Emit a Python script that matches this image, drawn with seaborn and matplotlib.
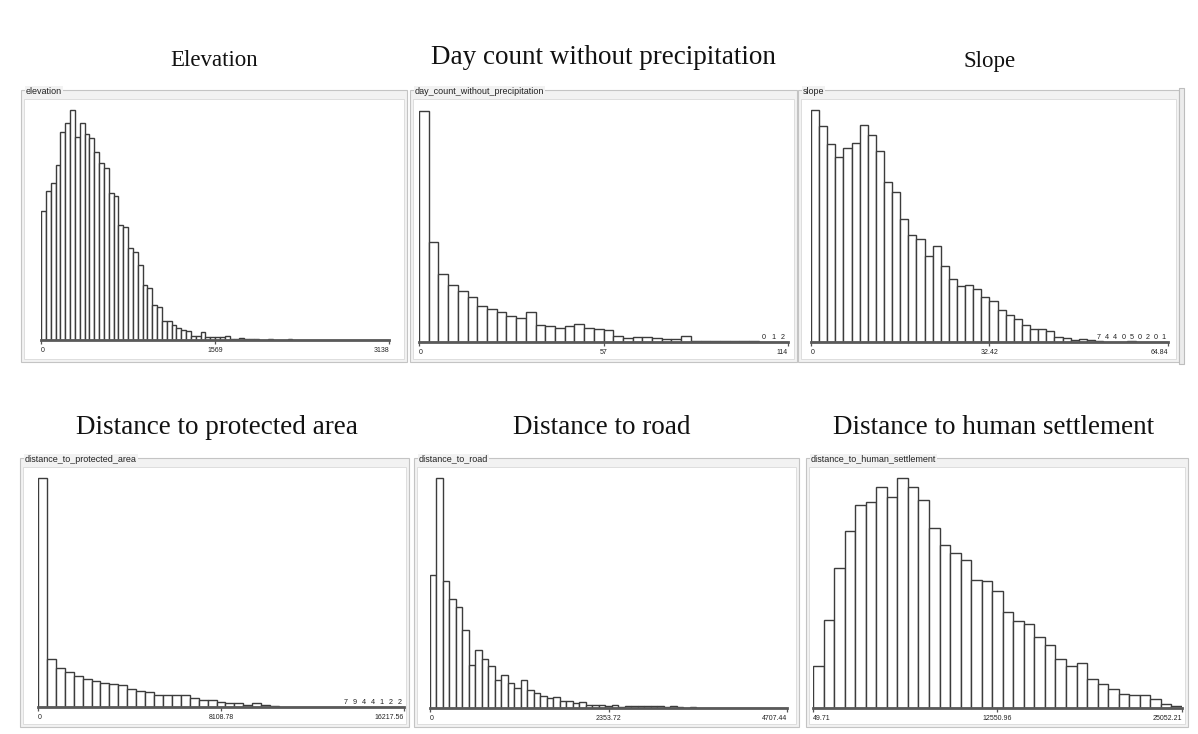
import numpy as np
import pandas as pd
import matplotlib
matplotlib.use("Agg")
import matplotlib.pyplot as plt
from matplotlib.patches import Rectangle
import seaborn as sns

sns.set_style("white")
plt.rcParams["font.family"] = ["Liberation Sans", "DejaVu Sans"]

# bar heights, as a fraction of the tallest bar
elev_heights = [0.56, 0.65, 0.685, 0.76, 0.907, 0.946, 1.0, 0.884, 0.943, 0.899,
                0.878, 0.82, 0.77, 0.75, 0.642, 0.628, 0.50, 0.49, 0.40, 0.385,
                0.326, 0.24, 0.226, 0.154, 0.145, 0.081, 0.081, 0.065, 0.052, 0.043,
                0.039, 0.017, 0.017, 0.033, 0.014, 0.012, 0.012, 0.012, 0.017, 0.006,
                0.006, 0.01, 0.005, 0.004, 0.004, 0.001, 0.0, 0.005, 0.0, 0.0,
                0.0, 0.006] + [0.0] * 20
day_heights = [1.0, 0.432, 0.295, 0.249, 0.223, 0.194, 0.155, 0.144, 0.132, 0.112,
               0.105, 0.132, 0.075, 0.07, 0.06, 0.069, 0.078, 0.062, 0.058, 0.05,
               0.024, 0.019, 0.023, 0.023, 0.017, 0.012, 0.013, 0.024, 0.004, 0.005,
               0.003, 0.004, 0.004, 0.004, 0.003, 0.0, 0.0007, 0.0014]
slope_heights = [1.0, 0.933, 0.854, 0.80, 0.839, 0.858, 0.935, 0.892, 0.825, 0.689,
                 0.646, 0.531, 0.463, 0.445, 0.37, 0.413, 0.327, 0.273, 0.24, 0.244,
                 0.23, 0.194, 0.176, 0.139, 0.118, 0.10, 0.072, 0.056, 0.056, 0.047,
                 0.022, 0.017, 0.009, 0.011, 0.007, 0.0035, 0.002, 0.002, 0.0, 0.0025,
                 0.0, 0.001, 0.0, 0.0005]
prot_heights = [1.0, 0.208, 0.169, 0.155, 0.137, 0.121, 0.114, 0.107, 0.10, 0.097,
                0.079, 0.072, 0.065, 0.053, 0.053, 0.051, 0.053, 0.039, 0.029, 0.029,
                0.02, 0.017, 0.017, 0.01, 0.016, 0.007, 0.003, 0.002, 0.002, 0.002,
                0.002, 0.002, 0.002, 0.002, 0.0015, 0.002, 0.001, 0.001, 0.0003, 0.0005,
                0.0005]
road_heights = [0.581, 1.0, 0.551, 0.473, 0.438, 0.339, 0.187, 0.254, 0.214, 0.182,
                0.121, 0.143, 0.108, 0.089, 0.121, 0.079, 0.067, 0.053, 0.043, 0.05,
                0.029, 0.03, 0.022, 0.027, 0.014, 0.014, 0.014, 0.01, 0.013, 0.006,
                0.009, 0.009, 0.007, 0.007, 0.007, 0.007, 0.006, 0.009, 0.003, 0.001,
                0.004] + [0.0] * 14
human_heights = [0.184, 0.384, 0.609, 0.77, 0.885, 0.895, 0.964, 0.918, 1.0, 0.961,
                 0.906, 0.784, 0.708, 0.673, 0.645, 0.558, 0.554, 0.511, 0.417, 0.378,
                 0.367, 0.308, 0.273, 0.213, 0.183, 0.194, 0.127, 0.105, 0.083, 0.062,
                 0.055, 0.055, 0.04, 0.017, 0.01]

titles = ["Elevation", "Day count without precipitation", "Slope",
          "Distance to protected area", "Distance to road", "Distance to human settlement"]
names = ["elevation", "day_count_without_precipitation", "slope",
         "distance_to_protected_area", "distance_to_road", "distance_to_human_settlement"]
ranges = [(0, 3138), (0, 114), (0, 64.84), (0, 16217.56), (0, 4707.44), (49.71, 25052.21)]
tick_labels = [["0", "1569", "3138"], ["0", "57", "114"], ["0", "32.42", "64.84"],
               ["0", "8108.78", "16217.56"], ["0", "2353.72", "4707.44"],
               ["49.71", "12550.96", "25052.21"]]
# small count labels printed over the last bins
tail_counts = [[], ["0", "1", "2"], ["7", "4", "4", "0", "5", "0", "2", "0", "1"],
               ["7", "9", "4", "4", "1", "2", "2"], [], []]
all_heights = [elev_heights, day_heights, slope_heights, prot_heights, road_heights, human_heights]

W, H = 1198, 734
fig = plt.figure(figsize=(W / 100, H / 100), dpi=100)
fig.patch.set_facecolor("white")

# layout in pixels: frame box, plot area (x0, x1, baseline, top of tallest bar)
frames = [(21, 407, 90, 362), (410, 797, 90, 362), (798, 1179, 90, 362),
          (20, 409, 458, 727), (414, 799, 458, 727), (806, 1188, 458, 727)]
plots = [(41, 389, 340, 109), (419, 788, 342, 110), (811, 1168, 342, 109),
         (38, 404, 707, 477), (430, 787, 708, 477), (813, 1182, 708, 477)]
title_pos = [(214, 60), (603, 58), (990, 62), (217, 428), (602, 428), (994, 428)]
title_size = [16.5, 19.5, 16.5, 19.5, 19.5, 19.5]


def rect_px(x0, x1, y0, y1, **kw):
    r = Rectangle((x0 / W, 1 - y1 / H), (x1 - x0) / W, (y1 - y0) / H,
                  transform=fig.transFigure, **kw)
    fig.add_artist(r)


for i in range(6):
    fx0, fx1, fy0, fy1 = frames[i]
    rect_px(fx0, fx1, fy0, fy1, facecolor="#f2f2f2", edgecolor="#c4c4c4", lw=0.8, zorder=-2)
    rect_px(fx0 + 3, fx1 - 3, fy0 + 9, fy1 - 3, facecolor="white", edgecolor="#dadada", lw=0.6, zorder=-1)
    fig.text((fx0 + 5) / W, 1 - (fy0 + 1) / H, names[i], fontsize=6.5, color="#222222",
             ha="left", va="center",
             bbox=dict(facecolor="#f2f2f2", edgecolor="none", pad=0.6))

    tx, ty = title_pos[i]
    fig.text(tx / W, 1 - ty / H, titles[i], fontsize=title_size[i], ha="center", va="center",
             family=["Liberation Serif", "DejaVu Serif"], color="#111111")

    px0, px1, pb, pt = plots[i]
    ax = fig.add_axes([px0 / W, 1 - pb / H, (px1 - px0) / W, (pb - pt) / H])
    ax.patch.set_alpha(0)

    lo, hi = ranges[i]
    heights = all_heights[i]
    n = len(heights)
    edges = np.linspace(lo, hi, n + 1)
    df = pd.DataFrame({"center": (edges[:-1] + edges[1:]) / 2, "h": heights})
    sns.histplot(data=df, x="center", weights="h", bins=n, binrange=(lo, hi), ax=ax,
                 color="white", edgecolor="#3c3c3c", linewidth=1.0, alpha=1)

    ax.set_xlim(lo, hi)
    ax.set_ylim(0, 1.006)
    ax.set(xlabel="", ylabel="")
    ax.set_yticks([])
    ax.set_xticks([lo, (lo + hi) / 2, hi])
    ax.set_xticklabels(tick_labels[i], fontsize=5, color="#222222")
    tl = ax.get_xticklabels()
    tl[0].set_ha("left")
    tl[-1].set_ha("right")
    ax.tick_params(axis="x", length=3, width=0.9, color="#555555", pad=2, bottom=True)
    for s in ["top", "left", "right"]:
        ax.spines[s].set_visible(False)
    ax.spines["bottom"].set_linewidth(2.0)
    ax.spines["bottom"].set_color("#5a5a5a")

    labels = tail_counts[i]
    if labels:
        start = n - len(labels)
        for k, lab in enumerate(labels):
            c = (edges[start + k] + edges[start + k + 1]) / 2
            ax.text(c, 0.004, lab, fontsize=5.2, ha="center", va="bottom", color="#222222")

# double divider at the right edge of the slope window
rect_px(1179, 1184, 88, 364, facecolor="#ececec", edgecolor="#bdbdbd", lw=0.8, zorder=-2)

fig.savefig("out.png", dpi=100, facecolor="white")
